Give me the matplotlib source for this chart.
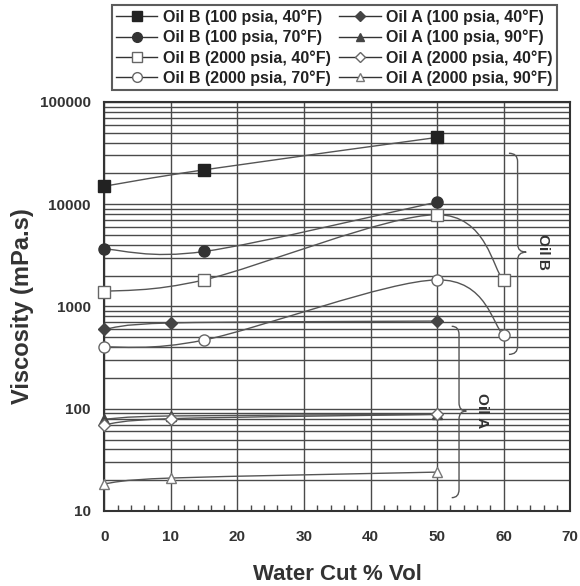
import numpy as np
import matplotlib
matplotlib.use("Agg")
import matplotlib.pyplot as plt
from matplotlib.path import Path
from matplotlib.patches import PathPatch
from matplotlib.lines import Line2D

plt.rcParams["font.family"] = ["Liberation Sans", "DejaVu Sans"]
plt.rcParams["font.weight"] = "bold"

# viscosity (mPa.s) vs water cut (% vol)
oil_b_100_40_x = [0, 15, 50]
oil_b_100_40_y = [15000, 21700, 45000]
oil_b_100_70_x = [0, 15, 50]
oil_b_100_70_y = [3650, 3450, 10500]
oil_b_2000_40_x = [0, 15, 50, 60]
oil_b_2000_40_y = [1400, 1820, 7900, 1800]
oil_b_2000_70_x = [0, 15, 50, 60]
oil_b_2000_70_y = [400, 470, 1820, 525]

oil_a_100_40_x = [0, 10, 50]
oil_a_100_40_y = [600, 690, 720]
oil_a_100_90_x = [0, 10, 50]
oil_a_100_90_y = [79, 85, 88]
oil_a_2000_40_x = [0, 10, 50]
oil_a_2000_40_y = [70, 80, 88]
oil_a_2000_90_x = [0, 10, 50]
oil_a_2000_90_y = [18.5, 21, 24]

labels_b = ["Oil B (100 psia, 40°F)", "Oil B (100 psia, 70°F)",
            "Oil B (2000 psia, 40°F)", "Oil B (2000 psia, 70°F)"]
labels_a = ["Oil A (100 psia, 40°F)", "Oil A (100 psia, 90°F)",
            "Oil A (2000 psia, 40°F)", "Oil A (2000 psia, 90°F)"]

x_ticks = [0, 10, 20, 30, 40, 50, 60, 70]
y_ticks = [10, 100, 1000, 10000, 100000]
y_ticklabels = ["10", "100", "1000", "10000", "100000"]

LINE = "#555555"
DARK = "#222222"
GRID = "#4a4a4a"


def smooth_path(xs, ys):
    """Catmull-Rom style bezier through the points (in x / log10 y space)."""
    pts = np.column_stack([np.asarray(xs, float), np.log10(ys)])
    n = len(pts)
    verts = [pts[0]]
    codes = [Path.MOVETO]
    for i in range(n - 1):
        p0 = pts[i - 1] if i > 0 else pts[i]
        p1 = pts[i]
        p2 = pts[i + 1]
        p3 = pts[i + 2] if i + 2 < n else pts[i + 1]
        c1 = p1 + (p2 - p0) / 6.0
        c2 = p2 - (p3 - p1) / 6.0
        verts += [c1, c2, p2]
        codes += [Path.CURVE4] * 3
    verts = np.array(verts)
    verts[:, 1] = 10 ** verts[:, 1]
    return Path(verts, codes)


fig = plt.figure(figsize=(5.8, 5.86), dpi=100)
ax = fig.add_axes([0.180, 0.128, 0.803, 0.698])
ax.set_yscale("log")
ax.set_xlim(0, 70)
ax.set_ylim(10, 100000)

series = [
    (oil_b_100_40_x, oil_b_100_40_y, "s", DARK, DARK, 8),
    (oil_b_100_70_x, oil_b_100_70_y, "o", "#333333", "#333333", 8),
    (oil_b_2000_40_x, oil_b_2000_40_y, "s", "white", "#666666", 8),
    (oil_b_2000_70_x, oil_b_2000_70_y, "o", "white", "#666666", 8),
    (oil_a_100_40_x, oil_a_100_40_y, "D", "#444444", "#444444", 6),
    (oil_a_100_90_x, oil_a_100_90_y, "^", "#444444", "#444444", 7),
    (oil_a_2000_40_x, oil_a_2000_40_y, "D", "white", "#666666", 6),
    (oil_a_2000_90_x, oil_a_2000_90_y, "^", "white", "#777777", 7),
]

handles = []
for (xs, ys, mk, fc, ec, ms), lab in zip(series, labels_b + labels_a):
    ax.add_patch(PathPatch(smooth_path(xs, ys), fill=False, edgecolor=LINE,
                           lw=1.0, zorder=3))
    ax.plot(xs, ys, ls="none", marker=mk, ms=ms, mfc=fc, mec=ec, mew=1.0,
            zorder=4, clip_on=False)
    handles.append(Line2D([], [], color="#333333", lw=1.0, marker=mk, ms=ms - 1,
                          mfc=fc, mec=ec, mew=1.0, label=lab))

# grid
ax.set_xticks(x_ticks)
ax.set_xticks(np.arange(0, 71, 2), minor=True)
ax.set_yticks(y_ticks)
ax.set_yticklabels(y_ticklabels)
ax.yaxis.set_minor_formatter(plt.NullFormatter())
ax.grid(True, which="major", axis="x", color=GRID, lw=1.0)
ax.grid(True, which="both", axis="y", color=GRID, lw=1.0)
ax.set_axisbelow(True)
ax.tick_params(axis="x", which="major", direction="in", length=0, pad=14,
               labelsize=11, labelcolor="#333333")
ax.tick_params(axis="x", which="minor", direction="in", length=4, width=1,
               color=GRID)
ax.tick_params(axis="y", which="both", length=0, pad=10, labelsize=11,
               labelcolor="#333333")
for sp in ax.spines.values():
    sp.set_color("#333333")
    sp.set_linewidth(1.5)

ax.set_xlabel("Water Cut % Vol", fontsize=16, fontweight="bold",
              color="#333333", labelpad=14)
ax.set_ylabel("Viscosity (mPa.s)", fontsize=17, fontweight="bold",
              color="#333333")
ax.yaxis.set_label_coords(-0.152, 0.5)


def brace(x0, x1, y_top, y_mid, y_bot):
    """Curly brace opening to the left, tip pointing right at y_mid."""
    xm = (x0 + x1) / 2
    lt, lm, lb = np.log10([y_top, y_mid, y_bot])
    d = 0.08
    verts = [
        (x0, lt), (xm, lt), (xm, lt - d),      # top hook
        (xm, lm + d), (xm, lm), (x1, lm),      # into the tip
        (xm, lm), (xm, lm - d),                # out of the tip
        (xm, lb + d), (xm, lb), (x0, lb),      # bottom hook
    ]
    codes = [
        Path.MOVETO, Path.CURVE3, Path.CURVE3,
        Path.LINETO, Path.CURVE3, Path.CURVE3,
        Path.CURVE3, Path.CURVE3,
        Path.LINETO, Path.CURVE3, Path.CURVE3,
    ]
    v = np.array(verts, float)
    v[:, 1] = 10 ** v[:, 1]
    ax.add_patch(PathPatch(Path(v, codes), fill=False, edgecolor="#555555",
                           lw=1.0, zorder=5, clip_on=False))


brace(60.8, 63.4, 31500, 3400, 340)
brace(52.2, 54.4, 640, 95, 13.5)
ax.text(65.9, 3400, "Oil B", rotation=-90, ha="center", va="center",
        fontsize=11, color="#333333")
ax.text(56.8, 95, "Oil A", rotation=-90, ha="center", va="center",
        fontsize=11, color="#333333")

leg = fig.legend(handles=handles, ncol=2, loc="upper left",
                 bbox_to_anchor=(0.193, 0.991, 0.767, 0.0), mode="expand",
                 fontsize=11.5, frameon=True,
                 fancybox=False, edgecolor="#333333", handlelength=2.6,
                 handletextpad=0.35, columnspacing=0.8, labelspacing=0.3,
                 borderpad=0.25, borderaxespad=0)
leg.get_frame().set_linewidth(1.5)
for t in leg.get_texts():
    t.set_color("#222222")

fig.savefig("out.png", dpi=100)
